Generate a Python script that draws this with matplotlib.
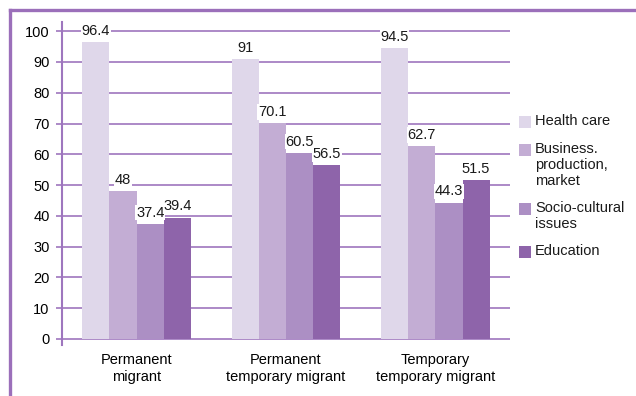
import numpy as np
import matplotlib.pyplot as plt
from matplotlib.patches import Rectangle
from matplotlib.lines import Line2D

plt.rcParams['font.family'] = ['Liberation Sans', 'DejaVu Sans']
plt.rcParams['font.size'] = 10.5

groups = ['Permanent\nmigrant', 'Permanent\ntemporary migrant', 'Temporary\ntemporary migrant']
series = ['Health care', 'Business.\nproduction,\nmarket', 'Socio-cultural\nissues', 'Education']
health = [96.4, 91, 94.5]
business = [48, 70.1, 62.7]
socio = [37.4, 60.5, 44.3]
education = [39.4, 56.5, 51.5]
colors = ['#DFD7EA', '#C3ADD4', '#AC8FC4', '#8E64AA']
purple = '#9E76BE'

fig = plt.figure(figsize=[6.36, 3.96], dpi=100)
ax = fig.add_axes([62/636, 1 - 345/396, 448/636, 323/396])

x = np.arange(len(groups))
w = 0.182
vals = [health, business, socio, education]
for i, (v, c) in enumerate(zip(vals, colors)):
    pos = x + (i - 1.5) * w
    ax.bar(pos, v, width=w, color=c, zorder=2)
    for px, val in zip(pos, v):
        ax.annotate(f'{val:g}', (px, val), xytext=(0, 3), textcoords='offset points',
                    ha='center', va='bottom', color='#1a1a1a', zorder=3,
                    bbox=dict(boxstyle='square,pad=0.05', fc='white', ec='none'))

ax.set_xlim(-0.5, 2.5)
ax.set_ylim(-2, 103)
ax.set_yticks(range(0, 101, 10))
ax.set_xticks(x)
ax.set_xticklabels(groups, linespacing=1.2)
ax.tick_params(axis='x', length=0, pad=6)
ax.tick_params(axis='y', length=4, color=purple, width=1.2, pad=5)
ax.yaxis.grid(True, color=purple, lw=1.2, zorder=0)
for s in ['top', 'right', 'bottom']:
    ax.spines[s].set_visible(False)
ax.spines['left'].set_color(purple)
ax.spines['left'].set_linewidth(1.5)

# legend drawn by hand so the swatch lines up with the first text line
leg_y = [122, 150, 209, 252]
for lab, c, yy in zip(series, colors, leg_y):
    fig.patches.append(Rectangle((519/636, 1 - (yy + 6)/396), 12/636, 12/396,
                                 transform=fig.transFigure, fc=c, ec='none'))
    fig.text(535/636, 1 - (yy - 8)/396, lab, ha='left', va='top',
             linespacing=1.2, color='#1a1a1a')

# outer frame along top and left edges
fig.lines.append(Line2D([10/636, 1], [1 - 10/396, 1 - 10/396], transform=fig.transFigure,
                        color='#9B6FBA', lw=2.4))
fig.lines.append(Line2D([10/636, 10/636], [0, 1 - 10/396], transform=fig.transFigure,
                        color='#9B6FBA', lw=2.4))

fig.savefig('out.png', dpi=100)
